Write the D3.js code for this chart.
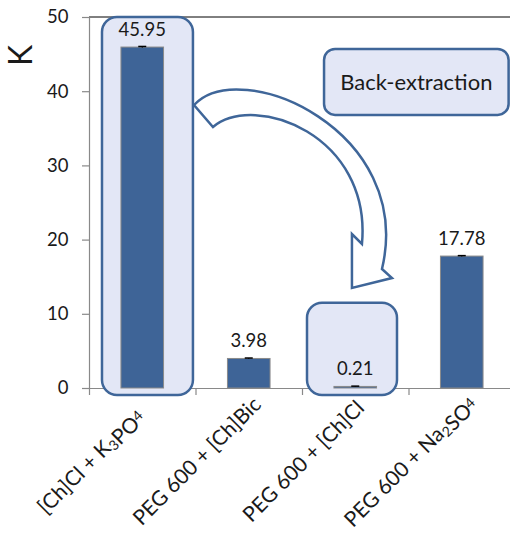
<!DOCTYPE html>
<html><head><meta charset="utf-8">
<script src="https://cdn.jsdelivr.net/npm/d3@7"></script>
<style>
body{margin:0;background:#fff}
svg{display:block}
text{font-family:Lato,"Open Sans",sans-serif;fill:#1a1a1a}
</style>
</head><body>
<svg id="chart" width="510" height="534"></svg>
<script>
// ---- data ----
const categories = ["[Ch]Cl + K₃PO₄", "PEG 600 + [Ch]Bic", "PEG 600 + [Ch]Cl", "PEG 600 + Na₂SO₄"];
const kValues = [45.95, 3.98, 0.21, 17.78];
const kErrors = [0.08, 0.06, 0.04, 0.06];
const valueLabels = ["45.95", "3.98", "0.21", "17.78"];
const yTicks = [0, 10, 20, 30, 40, 50];
const yTitle = "K";
const noteText = "Back-extraction";

// ---- layout ----
const W = 510, H = 534;
const plotL = 89, plotR = 515, plotT = 17, plotB = 388;
const barColor = "#3E6497", axisColor = "#898989", hiFill = "#E3E7F6", hiStroke = "#3F6699";

const svg = d3.select("#chart");
svg.append("rect").attr("width", W).attr("height", H).attr("fill", "#fff");

const x = d3.scaleBand().domain(categories).range([plotL, plotR]).paddingInner(0.6).paddingOuter(0.3);
const xc = d3.scaleLinear().domain([0, categories.length]).range([plotL, plotR]); // category units
const y = d3.scaleLinear().domain([0, 50]).range([plotB, plotT]);

// top border of plot area
svg.append("line").attr("x1", plotL).attr("x2", plotR).attr("y1", y(50)).attr("y2", y(50))
  .attr("stroke", "#000").attr("stroke-width", 1);

// y axis
const gy = svg.append("g").attr("transform", `translate(${plotL},0)`)
  .call(d3.axisLeft(y).tickValues(yTicks).tickSizeInner(7).tickSizeOuter(0).tickPadding(13.5));
gy.selectAll("path,line").attr("stroke", axisColor).attr("stroke-width", 1.2);
gy.selectAll("text").style("font-size", "18.5px").attr("fill", "#1a1a1a").style("font-family", "Lato");

// x axis (ticks at category boundaries)
const gx = svg.append("g").attr("transform", `translate(0,${plotB})`)
  .call(d3.axisBottom(xc).tickValues(d3.range(categories.length + 1)).tickSizeInner(7).tickSizeOuter(0).tickFormat(""));
gx.selectAll("path,line").attr("stroke", axisColor).attr("stroke-width", 1.2);

// y title
svg.append("text").attr("transform", `translate(32,55.5) rotate(-90)`)
  .attr("text-anchor", "middle").style("font-size", "32px").attr("fill", "#000").text(yTitle);

// highlight boxes (category units / data units)
const hiBoxes = [
  {x0: 0.122, x1: 0.976, v0: 50, v1: -0.94},
  {x0: 2.047, x1: 2.892, v0: 11.5, v1: -0.94}
];
svg.selectAll("rect.hi").data(hiBoxes).join("rect").attr("class", "hi")
  .attr("x", d => xc(d.x0)).attr("width", d => xc(d.x1) - xc(d.x0))
  .attr("y", d => y(d.v0)).attr("height", d => y(d.v1) - y(d.v0))
  .attr("rx", 15).attr("ry", 15)
  .attr("fill", hiFill).attr("stroke", hiStroke).attr("stroke-width", 2.5);

// bars
svg.selectAll("rect.bar").data(kValues).join("rect").attr("class", "bar")
  .attr("x", (d, i) => x(categories[i])).attr("width", x.bandwidth())
  .attr("y", d => y(d)).attr("height", d => y(0) - y(d))
  .attr("fill", barColor).attr("stroke", "#8a8a8a").attr("stroke-width", 1);

// error bars
const eb = svg.selectAll("g.err").data(kValues).join("g").attr("class", "err");
eb.append("line")
  .attr("x1", (d, i) => x(categories[i]) + x.bandwidth() / 2).attr("x2", (d, i) => x(categories[i]) + x.bandwidth() / 2)
  .attr("y1", (d, i) => y(d - kErrors[i])).attr("y2", (d, i) => y(d + kErrors[i]))
  .attr("stroke", "#000").attr("stroke-width", 1);
eb.append("line")
  .attr("x1", (d, i) => x(categories[i]) + x.bandwidth() / 2 - 4).attr("x2", (d, i) => x(categories[i]) + x.bandwidth() / 2 + 4)
  .attr("y1", (d, i) => y(d + kErrors[i])).attr("y2", (d, i) => y(d + kErrors[i]))
  .attr("stroke", "#000").attr("stroke-width", 1.5);

// value labels
svg.selectAll("text.val").data(kValues).join("text").attr("class", "val")
  .attr("x", (d, i) => x(categories[i]) + x.bandwidth() / 2)
  .attr("y", d => y(d) - 11)
  .attr("text-anchor", "middle").style("font-size", "18.5px")
  .text((d, i) => valueLabels[i]);

// category labels (rotated, with sub/superscript handling)
const subMap = {"₀":"0","₁":"1","₂":"2","₃":"3","₄":"4","₅":"5","₆":"6","₇":"7","₈":"8","₉":"9"};
categories.forEach((c, i) => {
  const cx = x(c) + x.bandwidth() / 2 - 52, cy = 461;
  const t = svg.append("text")
    .attr("transform", `translate(${cx},${cy}) rotate(-45)`)
    .attr("text-anchor", "middle").attr("dy", "0.35em")
    .style("font-size", "21px");
  const chars = Array.from(c);
  let buf = "";
  chars.forEach((ch, k) => {
    if (subMap[ch]) {
      if (buf) { t.append("tspan").text(buf); buf = ""; }
      const last = k === chars.length - 1;
      // trailing index drawn small and raised, as in the original
      t.append("tspan").attr("dy", last ? "-0.3em" : "0.22em").style("font-size", "14px").text(subMap[ch]);
      if (!last) t.append("tspan").attr("dy", "-0.22em").text("");
    } else buf += ch;
  });
  if (buf) t.append("tspan").text(buf);
});

// annotation box
const note = {x0: 2.207, x1: 3.94, v0: 45.7, v1: 36.8};
svg.append("rect")
  .attr("x", xc(note.x0)).attr("width", xc(note.x1) - xc(note.x0))
  .attr("y", y(note.v0)).attr("height", y(note.v1) - y(note.v0))
  .attr("rx", 11).attr("ry", 11)
  .attr("fill", hiFill).attr("stroke", hiStroke).attr("stroke-width", 2.5);
svg.append("text")
  .attr("x", (xc(note.x0) + xc(note.x1)) / 2).attr("y", (y(note.v0) + y(note.v1)) / 2)
  .attr("dy", "0.36em").attr("text-anchor", "middle").style("font-size", "22px").text(noteText);

// curved arrow (category units, data units)
const P = (a, v) => `${xc(a)},${y(v)}`;
const arrowPath =
  `M${P(1.164,35.18)} C${P(1.559,39.89)} ${P(2.657,34.10)} ${P(2.563,19.41)}` +
  ` L${P(2.469,20.75)} L${P(2.469,13.48)} L${P(2.845,14.82)} L${P(2.751,16.04)}` +
  ` C${P(3.061,34.77)} ${P(1.418,44.88)} ${P(0.986,38.14)} Z`;
svg.append("path").attr("d", arrowPath)
  .attr("fill", "#fff").attr("stroke", hiStroke).attr("stroke-width", 2.5).attr("stroke-linejoin", "miter");
</script>
</body></html>
